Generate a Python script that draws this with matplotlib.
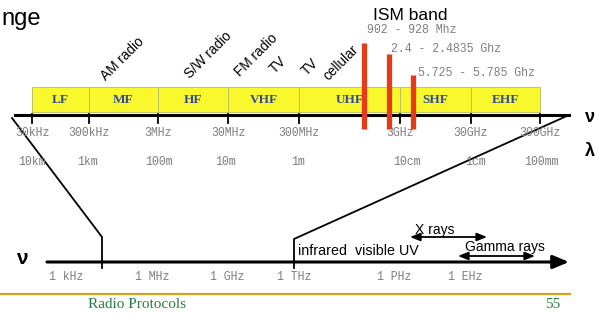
import numpy as np
import matplotlib
matplotlib.use('Agg')
import matplotlib.pyplot as plt
from matplotlib.patches import Rectangle

# radio bands (upper scale), edges
band_names = ['LF', 'MF', 'HF', 'VHF', 'UHF', 'SHF', 'EHF']
band_edges = [32, 89, 158, 228, 299, 400, 471, 540]
freq_labels = ['30kHz', '300kHz', '3MHz', '30MHz', '300MHz', '3GHz', '30GHz', '300GHz']
wave_labels = ['10km', '1km', '100m', '10m', '1m', '10cm', '1cm', '100mm']
wave_pos = [32, 87, 159, 225, 298, 407, 475, 541]

# applications written over the bands
apps = ['AM radio', 'S/W radio', 'FM radio', 'TV', 'TV', 'cellular']
app_pos = [(123, 59), (208, 55), (256, 55), (278, 65), (310, 67), (341, 63)]

# ISM bands
ism_labels = ['902 - 928 Mhz', '2.4 - 2.4835 Ghz', '5.725 - 5.785 Ghz']
ism_pos = [364, 389, 413]
ism_top = [43, 54, 75]

# lower (whole spectrum) scale
spec_labels = ['1 kHz', '1 MHz', '1 GHz', '1 THz', '1 PHz', '1 EHz']
spec_pos = [66, 152, 227, 294, 394, 465]

plt.rcParams['font.family'] = ['Liberation Sans', 'DejaVu Sans']
mono = 'Liberation Mono'
serif = 'Liberation Serif'
gray = '#7d7d7d'

fig = plt.figure(figsize=(5.95, 3.14), dpi=100)
ax = fig.add_axes([0, 0, 1, 1])
ax.set_xlim(0, 595)
ax.set_ylim(314, 0)
ax.axis('off')

# title fragment
ax.text(41, 19, 'nge', fontsize=17, ha='right', va='center')

# band boxes
for i, name in enumerate(band_names):
    x0, x1 = band_edges[i], band_edges[i + 1]
    ax.add_patch(Rectangle((x0, 87), x1 - x0, 25, facecolor='#f8f82c',
                           edgecolor='#b9b96a', lw=0.6, zorder=1))
    ax.text((x0 + x1) / 2, 100, name, fontsize=9.5, fontweight='bold',
            family=serif, color='#33479a', ha='center', va='center', zorder=2)

# upper axis with ticks
ax.plot([15, 569], [115, 115], color='black', lw=2.2, zorder=4)
for x, lab in zip(band_edges, freq_labels):
    ax.plot([x, x], [114, 123], color='black', lw=1.3, zorder=4)
    ax.text(x, 133, lab, fontsize=8.3, family=mono, color=gray,
            ha='center', va='center')
for x, lab in zip(wave_pos, wave_labels):
    ax.text(x, 162, lab, fontsize=8.3, family=mono, color=gray,
            ha='center', va='center')

ax.text(595, 118, 'ν', fontsize=13, fontweight='bold', ha='right', va='center')
ax.text(595, 151, 'λ', fontsize=13, fontweight='bold', ha='right', va='center')

# applications
for lab, (x, y) in zip(apps, app_pos):
    ax.text(x, y, lab, fontsize=9.8, rotation=45, ha='center', va='center')

# ISM bars
ax.text(410, 15, 'ISM band', fontsize=12.5, ha='center', va='center')
for x, top in zip(ism_pos, ism_top):
    ax.plot([x, x], [top, 129], color='#e8391b', lw=3.8,
            solid_capstyle='butt', zorder=5)
ax.text(367, 30, ism_labels[0], fontsize=8.3, family=mono, color=gray,
        ha='left', va='center')
ax.text(391, 49, ism_labels[1], fontsize=8.3, family=mono, color=gray,
        ha='left', va='center')
ax.text(418, 73, ism_labels[2], fontsize=8.3, family=mono, color=gray,
        ha='left', va='center')

# zoom lines down to the full spectrum
ax.plot([12, 102, 102], [118, 237, 268], color='black', lw=1.3)
ax.plot([569, 294, 294], [115, 239, 268], color='black', lw=1.3)

# lower axis
ax.annotate('', xy=(569, 262), xytext=(47, 262),
            arrowprops=dict(arrowstyle='-|>,head_length=0.6,head_width=0.25',
                            lw=2.2, color='black', mutation_scale=16,
                            shrinkA=0, shrinkB=0))
ax.text(22, 259, 'ν', fontsize=15, fontweight='bold', ha='center', va='center')
for x, lab in zip(spec_pos, spec_labels):
    ax.text(x, 277, lab, fontsize=8.3, family=mono, color=gray,
            ha='center', va='center')

ax.text(298, 251, 'infrared  visible UV', fontsize=10.3, ha='left', va='center')
ax.text(435, 230, 'X rays', fontsize=10, ha='center', va='center')
ax.annotate('', xy=(487, 237), xytext=(410, 237),
            arrowprops=dict(arrowstyle='<|-|>,head_length=0.5,head_width=0.2',
                            lw=1.3, color='black', mutation_scale=12,
                            shrinkA=0, shrinkB=0))
ax.text(505, 247, 'Gamma rays', fontsize=10, ha='center', va='center')
ax.annotate('', xy=(535, 256), xytext=(458, 256),
            arrowprops=dict(arrowstyle='<|-|>,head_length=0.5,head_width=0.2',
                            lw=1.3, color='black', mutation_scale=12,
                            shrinkA=0, shrinkB=0))

# footer
ax.plot([0, 570], [294, 294], color='#d6a21c', lw=1.6)
ax.text(137, 305, 'Radio Protocols', fontsize=11, family=serif,
        color='#2a7a45', ha='center', va='center')
ax.text(553, 305, '55', fontsize=11, family=serif, color='#2a7a45',
        ha='center', va='center')

fig.savefig('out.png', dpi=100)
